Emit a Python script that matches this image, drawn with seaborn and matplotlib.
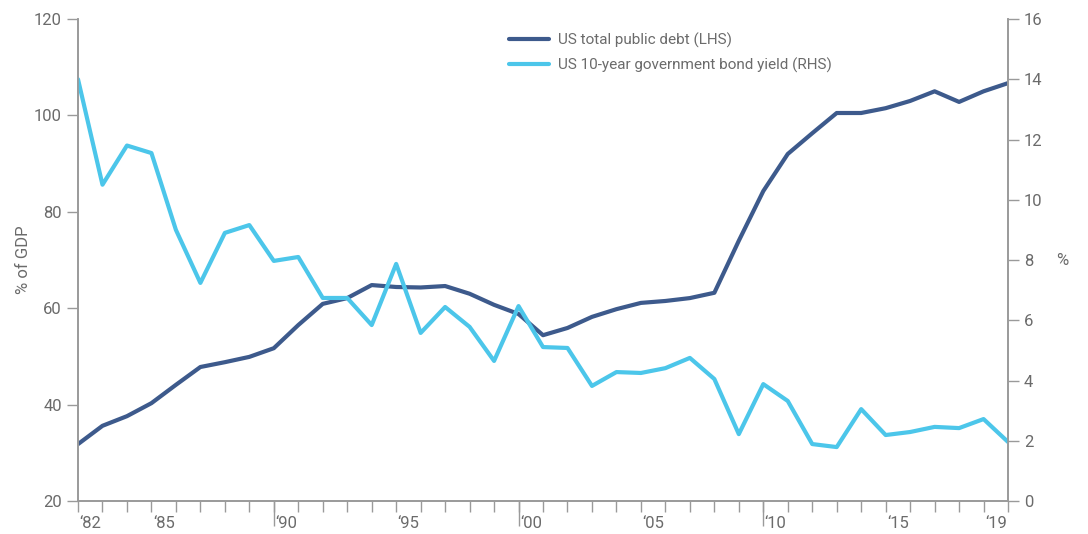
import pandas as pd
import seaborn as sns
import matplotlib.pyplot as plt

DEBT_COLOR = "#3D5A8C"
YIELD_COLOR = "#4CC6EA"
GREY = "#9A9A9A"
TEXT = "#6B6B6B"

# one point per year, 1982..2020 (39 points, labels sit between ticks)
years = list(range(1982, 2021))
debt = [31.8, 35.6, 37.6, 40.3, 44.1, 47.8, 48.8, 49.9, 51.7, 56.5,
        60.9, 62.1, 64.8, 64.4, 64.3, 64.6, 63.0, 60.7, 58.8, 54.4,
        55.9, 58.2, 59.8, 61.1, 61.5, 62.1, 63.2, 74.0, 84.3, 92.0,
        96.3, 100.5, 100.5, 101.5, 103.0, 105.0, 102.8, 105.0, 106.7]
bond_yield = [14.0, 10.5, 11.8, 11.55, 9.0, 7.24, 8.9, 9.16, 7.97, 8.1,
              6.74, 6.74, 5.84, 7.87, 5.58, 6.44, 5.78, 4.65, 6.47, 5.11,
              5.08, 3.82, 4.28, 4.25, 4.41, 4.75, 4.05, 2.22, 3.88, 3.32,
              1.89, 1.79, 3.05, 2.19, 2.29, 2.46, 2.42, 2.72, 1.96]
label_years = [1982, 1985, 1990, 1995, 2000, 2005, 2010, 2015, 2019]
long_ticks = [1990, 2000, 2010]

df = pd.DataFrame({"year": years, "debt": debt, "yield": bond_yield})

sns.set_style("white")
plt.rcParams["font.family"] = ["Roboto", "DejaVu Sans"]

fig = plt.figure(figsize=(10.88, 5.34), dpi=100)
ax = fig.add_axes([0.0717, 0.0618, 0.8548, 0.9026])
ax2 = ax.twinx()

sns.lineplot(data=df, x="year", y="debt", ax=ax, color=DEBT_COLOR, lw=3,
             label="US total public debt (LHS)", legend=False)
sns.lineplot(data=df, x="year", y="yield", ax=ax2, color=YIELD_COLOR, lw=3,
             label="US 10-year government bond yield (RHS)", legend=False)

ax.set_xlim(1982, 2020)
ax.set_ylim(20, 120)
ax2.set_ylim(0, 16)
ax.set_yticks(range(20, 121, 20))
ax2.set_yticks(range(0, 17, 2))

# year ticks at every year, labels centred in the year interval
ax.set_xticks([y + 0.5 for y in label_years])
ax.set_xticklabels(["\u2018" + str(y)[2:] for y in label_years])
ax.set_xticks(years, minor=True)
ax.tick_params(axis="x", which="major", length=0, pad=11, labelsize=12,
               labelcolor=TEXT, bottom=True)
ax.tick_params(axis="x", which="minor", length=8, width=1, color=GREY,
               direction="out", bottom=True)
sec = ax.secondary_xaxis("bottom")
sec.set_xticks(long_ticks)
sec.set_xticklabels([])
sec.tick_params(length=18, width=1, color=GREY, direction="out", bottom=True)
sec.spines["bottom"].set_visible(False)

ax.tick_params(axis="y", length=8, width=1, color=GREY, direction="out",
               labelsize=12, labelcolor=TEXT, left=True)
ax2.tick_params(axis="y", length=8, width=1, color=GREY, direction="out",
                labelsize=12, labelcolor=TEXT, right=True)

ax.set_xlabel("")
ax.set_ylabel("% of GDP", fontsize=12, color=TEXT, labelpad=2)
ax2.set_ylabel("%", fontsize=12, color=TEXT, rotation=0, labelpad=14, va="center")

for a in (ax, ax2):
    for s in a.spines.values():
        s.set_color(GREY)
        s.set_linewidth(1.2)
    a.spines["top"].set_visible(False)

h1, l1 = ax.get_legend_handles_labels()
h2, l2 = ax2.get_legend_handles_labels()
fig.legend(h1 + h2, l1 + l2, loc="upper left", bbox_to_anchor=(0.455, 0.965),
           frameon=False, fontsize=11, handlelength=2.6, handletextpad=0.6,
           labelcolor=TEXT, labelspacing=0.65)

plt.savefig("out.png", dpi=100)
plt.close()
